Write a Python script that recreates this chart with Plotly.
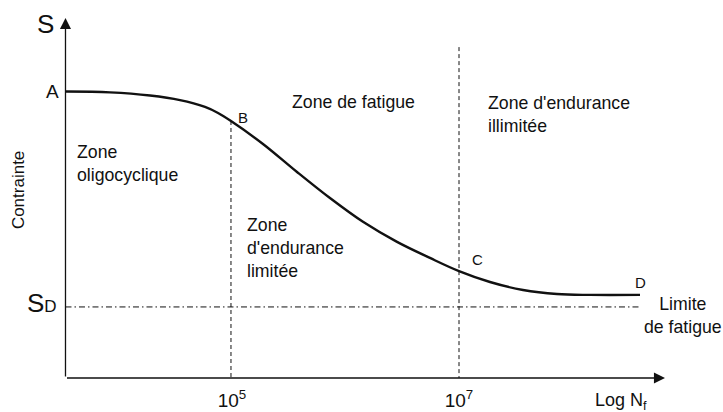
import plotly.graph_objects as go

# S-N (Wöhler) curve: stress vs log10 of cycles to failure (normalised stress)
log_n = [3.537, 3.925, 4.278, 4.542, 4.762, 4.877, 4.991, 5.273, 5.573, 5.863,
         6.154, 6.454, 6.744, 7.000, 7.273, 7.564, 7.863, 8.154, 8.595]
stress = [1.000, 0.997, 0.986, 0.970, 0.946, 0.925, 0.897, 0.817, 0.719, 0.628,
          0.545, 0.475, 0.419, 0.373, 0.335, 0.307, 0.293, 0.290, 0.290]

# Endurance limit and zone boundaries
s_d = 0.248
log_n_b = 4.991
s_b = 0.897
log_n_c = 7.0
boundary_top = 1.155

tick_vals = [5, 7]
tick_text = ["10<sup>5</sup>", "10<sup>7</sup>"]

x_origin = 3.533
x_tip = 8.815
y_tip = 1.2565

FONT = "Liberation Sans, Arial, sans-serif"
INK = "#111111"

fig = go.Figure()

# fatigue curve A-B-C-D
fig.add_trace(go.Scatter(x=log_n, y=stress, mode="lines",
                         line=dict(color=INK, width=2.4, shape="spline", smoothing=1.0),
                         hoverinfo="skip", showlegend=False))

# endurance limit (dash-dot)
fig.add_trace(go.Scatter(x=[x_origin, log_n[-1]], y=[s_d, s_d], mode="lines",
                         line=dict(color=INK, width=1, dash="6px,3px,1.5px,3px"),
                         hoverinfo="skip", showlegend=False))

# zone boundaries (dashed)
fig.add_trace(go.Scatter(x=[log_n_b, log_n_b], y=[s_b, 0], mode="lines",
                         line=dict(color=INK, width=1, dash="4px,3px"),
                         hoverinfo="skip", showlegend=False))
fig.add_trace(go.Scatter(x=[log_n_c, log_n_c], y=[boundary_top, 0], mode="lines",
                         line=dict(color=INK, width=1, dash="4px,3px"),
                         hoverinfo="skip", showlegend=False))

annotations = []

# axes with arrowheads
for tip_x, tip_y in [(x_origin, y_tip), (x_tip, 0)]:
    annotations.append(dict(x=tip_x, y=tip_y, ax=x_origin, ay=0,
                            xref="x", yref="y", axref="x", ayref="y",
                            text="", showarrow=True, arrowhead=2, arrowsize=1.7,
                            arrowwidth=1.3, arrowcolor=INK))

def label(text, x, y, size=17.7, xanchor="left", yanchor="middle", align="left", **kw):
    annotations.append(dict(text=text, x=x, y=y, xref="x", yref="y",
                            showarrow=False, xanchor=xanchor, yanchor=yanchor,
                            align=align, font=dict(family=FONT, size=size, color=INK), **kw))

label("S", 3.361, 1.236, size=26, xanchor="center")
label("A", 3.49, 1.0, size=19, xanchor="right")
label("S<span style='font-size:17px'>D</span>", 3.48, 0.262, size=26, xanchor="right")
label("B", 5.097, 0.911, size=15, xanchor="center")
label("C", 7.159, 0.412, size=15, xanchor="center")
label("D", 8.595, 0.332, size=15, xanchor="center")
label("Zone de fatigue", 5.511, 0.963)
label("Zone d'endurance<br>illimitée", 7.238, 0.921)
label("Zone<br>oligocyclique", 3.617, 0.747)
label("Zone<br>d'endurance<br>limitée", 5.115, 0.454)
label("Limite<br>de fatigue", 8.975, 0.218, xanchor="center", align="center")
label("Log N<sub>f</sub>", 8.181, -0.082, size=18)
label("Contrainte", 3.115, 0.656, size=17, xanchor="center", textangle=-90)

fig.update_layout(
    width=723, height=412,
    margin=dict(l=0, r=0, t=0, b=0),
    paper_bgcolor="white", plot_bgcolor="white",
    annotations=annotations,
    xaxis=dict(range=[2.956, 9.326], tickvals=tick_vals, ticktext=tick_text,
               showgrid=False, zeroline=False, showline=False, ticks="",
               anchor="free", position=0.0825, ticklabelstandoff=9,
               tickfont=dict(family=FONT, size=19, color=INK)),
    yaxis=dict(range=[-0.1187, 1.3194], visible=False),
)

fig.write_html("out.html")
